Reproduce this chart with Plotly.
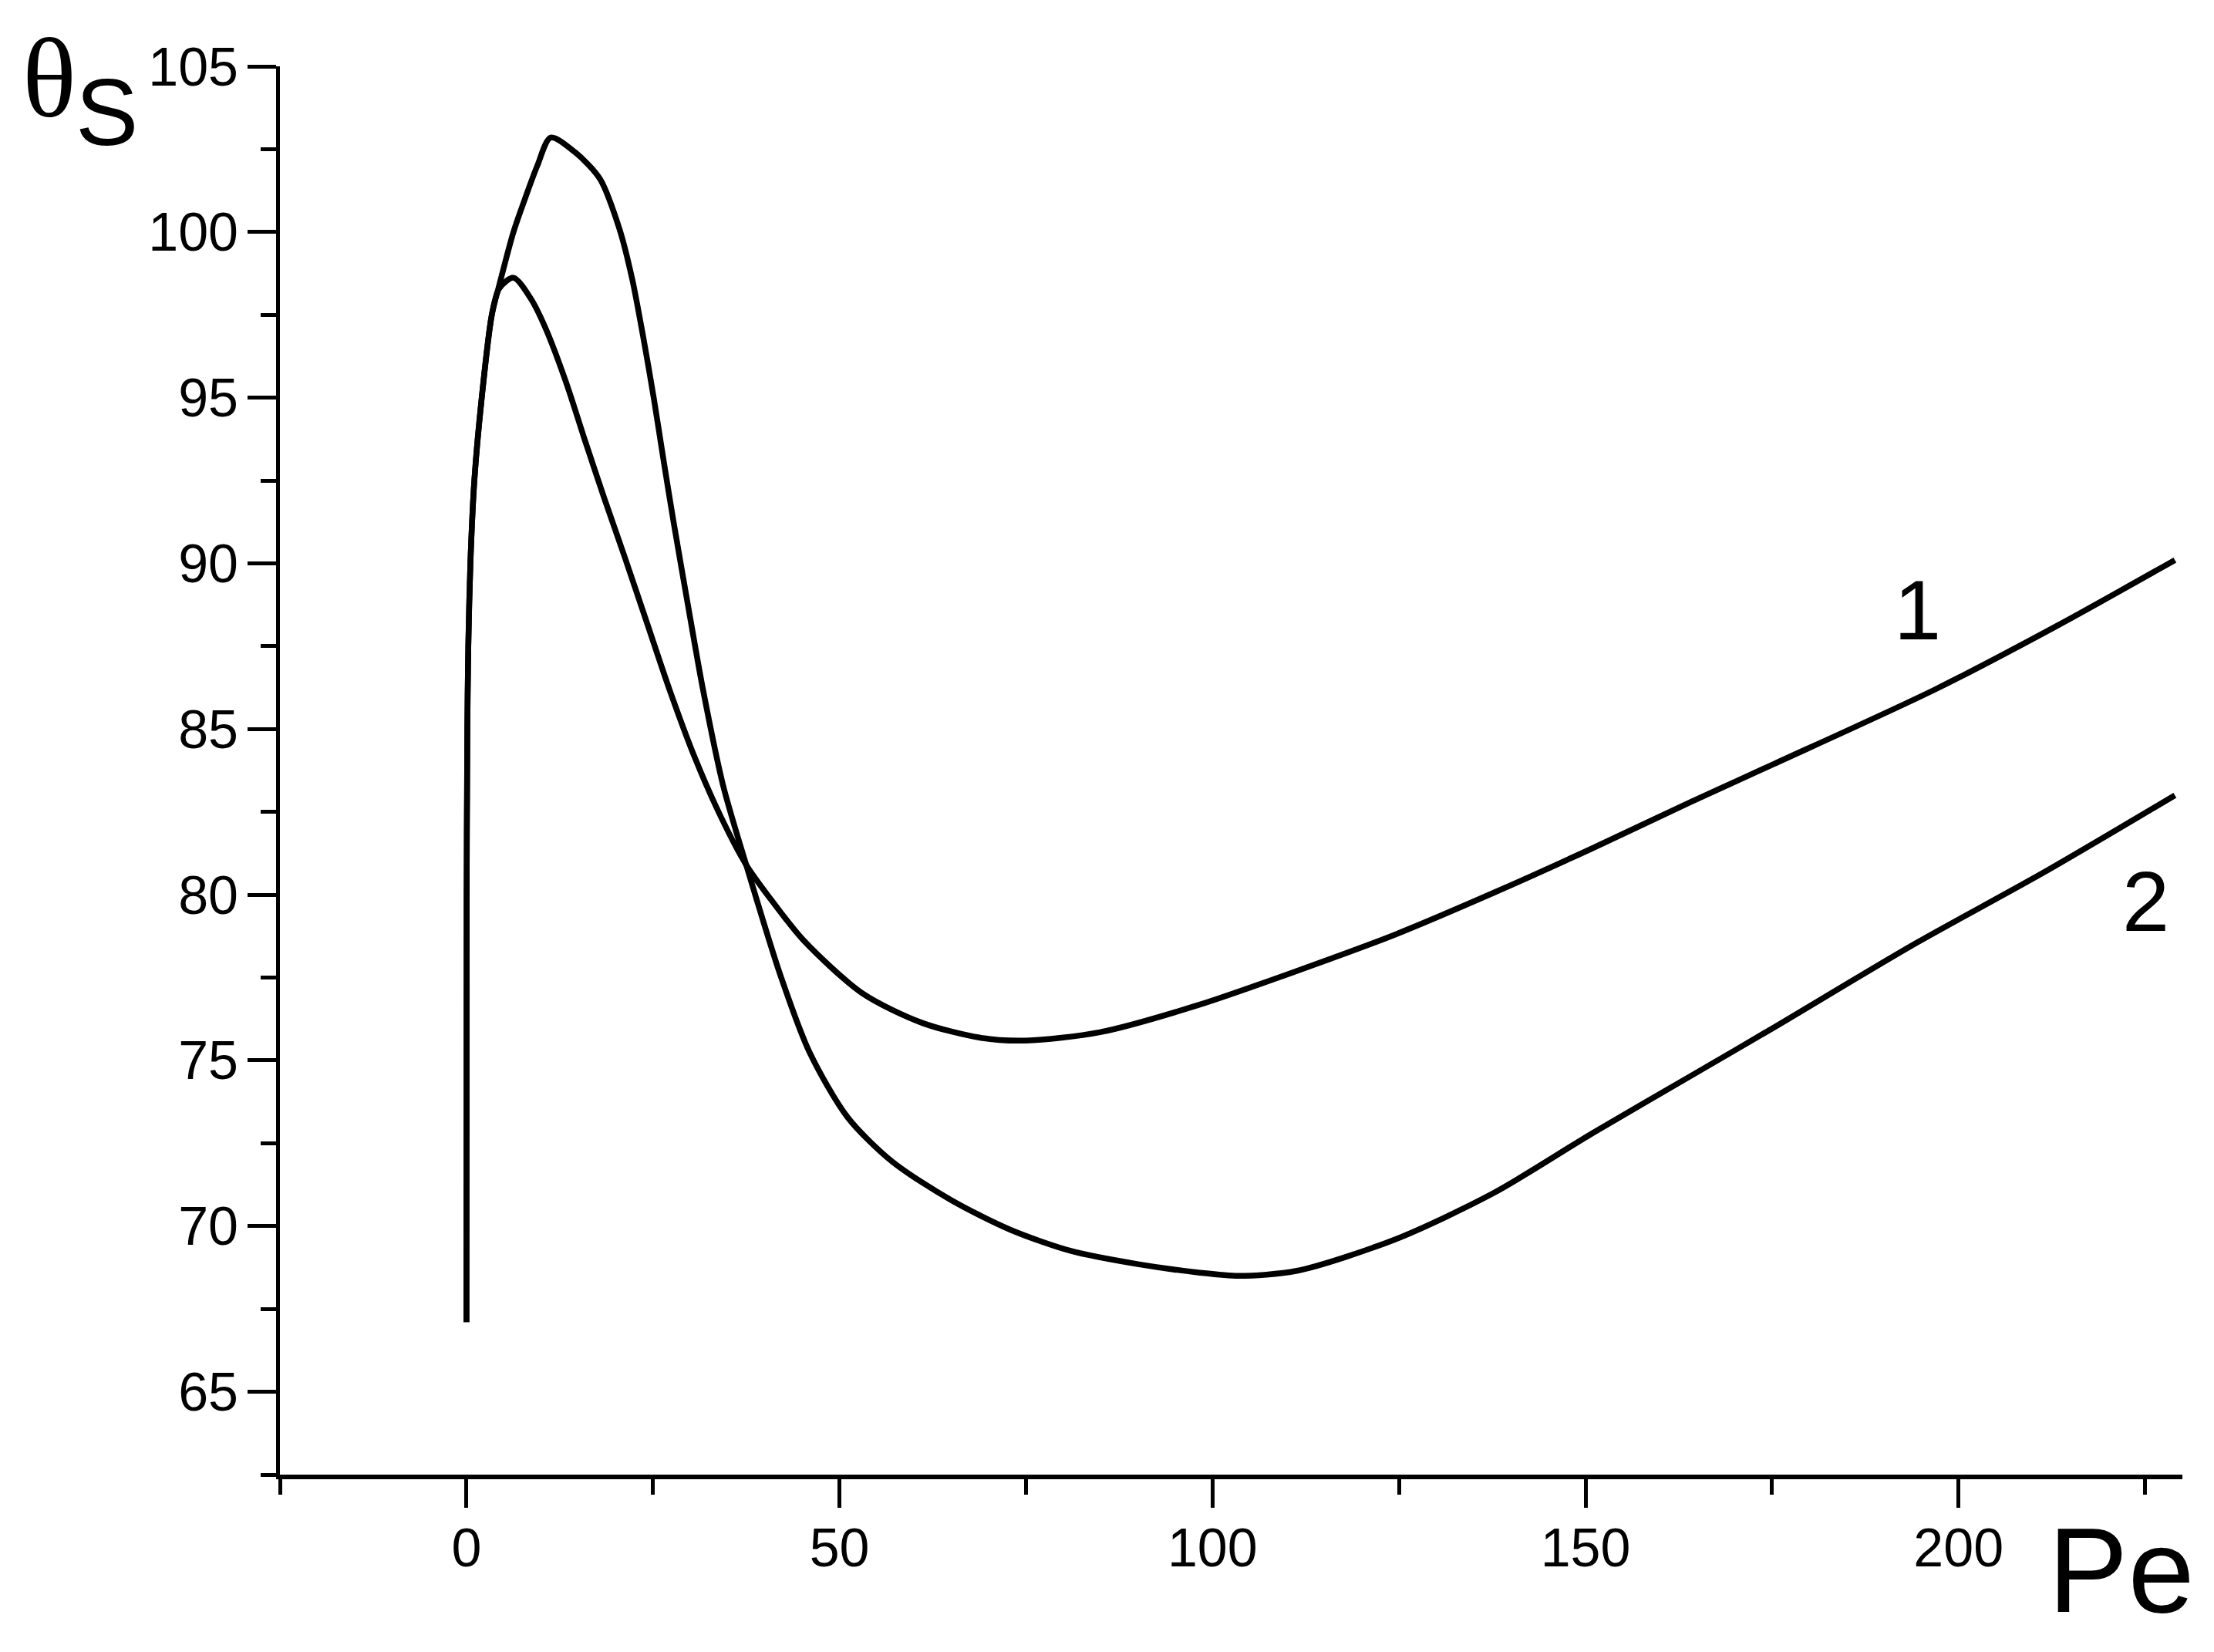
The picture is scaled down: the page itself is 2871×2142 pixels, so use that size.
import plotly.graph_objects as go

# curve 1 (lower peak, ends near 90)
pe_1 = [0, 0.03, 0.12, 0.25, 0.53, 1.06, 2.05, 3.4, 4.4, 6.3, 8.6, 10.6, 13.3,
        15.9, 18.5, 21.2, 24.2, 27.2, 30.5, 34.0, 37.5, 40.5, 45.2, 53.1, 61.1,
        69.0, 75.0, 84.9, 98.1, 111.3, 124.5, 137.7, 150.9, 164.1, 175.3,
        196.9, 213.4, 229.0]
theta_1 = [67.1, 80.0, 85.0, 87.5, 90.0, 92.5, 95.0, 97.5, 98.3, 98.62, 98.0,
           97.1, 95.5, 93.7, 91.95, 90.2, 88.2, 86.2, 84.2, 82.4, 80.9, 79.95,
           78.62, 77.02, 76.13, 75.68, 75.6, 75.85, 76.67, 77.7, 78.8, 80.06,
           81.4, 82.8, 83.95, 86.2, 88.14, 90.1]

# curve 2 (higher peak, deeper minimum)
pe_2 = [0, 0.03, 0.12, 0.25, 0.53, 1.06, 2.05, 3.4, 4.4, 6.3, 8.0, 9.5, 11.3,
        14.6, 17.9, 20.5, 22.2, 23.8, 25.1, 26.5, 27.8, 29.8, 31.7, 34.4, 37.5,
        42.1, 46.0, 51.1, 57.1, 65.0, 72.9, 81.0, 90.0, 98.1, 103.5, 111.3,
        124.5, 137.7, 150.9, 164.1, 175.3, 193.6, 211.4, 229.0]
theta_2 = [67.1, 80.0, 85.0, 87.5, 90.0, 92.5, 95.0, 97.5, 98.4, 100.0, 101.1,
           102.0, 102.85, 102.4, 101.6, 100.1, 98.6, 96.7, 95.0, 93.0, 91.2,
           88.6, 86.2, 83.3, 80.9, 77.56, 75.24, 73.28, 71.94, 70.78, 69.89,
           69.25, 68.85, 68.6, 68.5, 68.65, 69.6, 71.0, 72.8, 74.53, 76.0,
           78.45, 80.67, 83.0]

curve_labels = ["1", "2"]
label_pe = [194.5, 225.1]
label_theta = [88.6, 79.8]

x_ticks = [0, 50, 100, 150, 200]
y_ticks = [65, 70, 75, 80, 85, 90, 95, 100, 105]

fig = go.Figure()
for pe, th in [(pe_1, theta_1), (pe_2, theta_2)]:
    fig.add_trace(go.Scatter(
        x=pe, y=th, mode='lines',
        line=dict(color='black', width=7.5, shape='spline', smoothing=0.8),
        showlegend=False, hoverinfo='skip'
    ))

for txt, px, py in zip(curve_labels, label_pe, label_theta):
    fig.add_annotation(x=px, y=py, xref='x', yref='y', text=txt,
                       showarrow=False,
                       font=dict(family='Liberation Sans', size=110, color='black'))

# axis names
fig.add_annotation(x=-0.121, y=0.991, xref='paper', yref='paper', text='θ',
                   showarrow=False, xanchor='center', yanchor='middle',
                   font=dict(family='Liberation Serif', size=146, color='black'))
fig.add_annotation(x=-0.091, y=0.967, xref='paper', yref='paper', text='S',
                   showarrow=False, xanchor='center', yanchor='middle',
                   font=dict(family='Liberation Sans', size=122, color='black'))
fig.add_annotation(x=0.968, y=-0.068, xref='paper', yref='paper', text='Pe',
                   showarrow=False, xanchor='center', yanchor='middle',
                   font=dict(family='Liberation Sans', size=155, color='black'))

fig.update_xaxes(
    range=[-25, 230], tickmode='array', tickvals=x_ticks,
    ticks='outside', ticklen=37, tickwidth=5, tickcolor='black',
    minor=dict(ticks='outside', ticklen=20, tickwidth=5, tickcolor='black',
               dtick=25, tick0=-25),
    showline=True, linecolor='black', linewidth=6,
    showgrid=False, zeroline=False, ticklabelstandoff=-8,
    tickfont=dict(family='Liberation Sans', size=70, color='black')
)
fig.update_yaxes(
    range=[62.5, 105], tickmode='array', tickvals=y_ticks,
    ticks='outside', ticklen=37, tickwidth=5, tickcolor='black',
    minor=dict(ticks='outside', ticklen=20, tickwidth=5, tickcolor='black',
               dtick=2.5, tick0=62.5),
    showline=True, linecolor='black', linewidth=5,
    showgrid=False, zeroline=False, ticklabelstandoff=-2,
    tickfont=dict(family='Liberation Sans', size=70, color='black')
)

# page body has an 8px margin, so the figure is shrunk by that much
fig.update_layout(
    width=2863, height=2134,
    margin=dict(l=355, r=41, t=78, b=230),
    plot_bgcolor='white', paper_bgcolor='white'
)

fig.write_html("out.html")
